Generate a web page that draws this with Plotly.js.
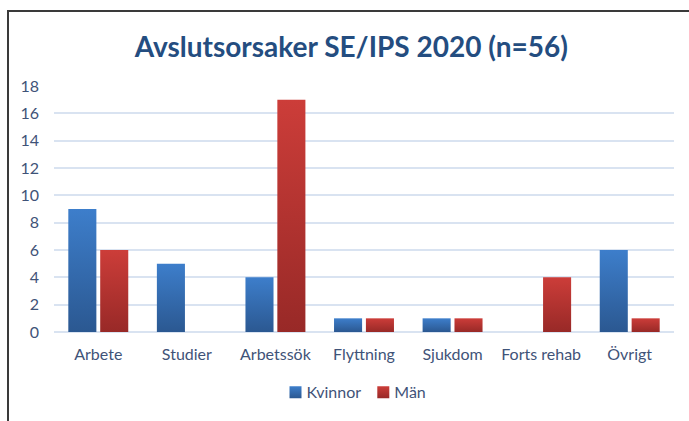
<!DOCTYPE html>
<html><head><meta charset="utf-8">
<script src="https://cdn.plot.ly/plotly-3.0.1.min.js"></script>
<style>
body{margin:0;padding:0;background:#fff;}
#wrap{position:relative;width:689px;height:421px;overflow:hidden;}
#chart{position:absolute;left:0;top:0;width:689px;height:421px;}
#frame{position:absolute;left:7px;top:10px;width:700px;height:430px;border-top:2px solid #3a3a3a;border-left:2px solid #3a3a3a;pointer-events:none;}
</style></head>
<body>
<div id="wrap"><div id="chart"></div><div id="frame"></div></div>
<script>
const categories = ["Arbete","Studier","Arbetssök","Flyttning","Sjukdom","Forts rehab","Övrigt"];
const kvinnor = [9,5,4,1,1,0,6];
const man = [6,0,17,1,1,4,1];
const yTicks = [0,2,4,6,8,10,12,14,16,18];

const font = "Lato, 'Open Sans', 'DejaVu Sans', sans-serif";
const data = [
  {type:"bar", name:"Kvinnor", x:categories, y:kvinnor, marker:{color:"#3567ad"}},
  {type:"bar", name:"Män", x:categories, y:man, marker:{color:"#b5332f"}}
];
const layout = {
  width:689, height:421,
  margin:{l:54, r:15, t:86, b:86},
  paper_bgcolor:"#ffffff", plot_bgcolor:"#ffffff",
  title:{text:"<b>Avslutsorsaker SE/IPS 2020 (n=56)</b>", x:0.51, xanchor:"center", y:0.888, yanchor:"middle",
    font:{family:font, size:28, color:"#244d80"}},
  barmode:"group", bargap:0.28, bargroupgap:0.12,
  showlegend:true,
  legend:{orientation:"h", x:0.5, xanchor:"center", y:-0.245, yanchor:"middle",
    font:{family:font, size:16, color:"#3f5378"}, itemwidth:30, traceorder:"normal"},
  xaxis:{type:"category", showgrid:false, zeroline:false, showline:false, ticks:"",
    tickfont:{family:font, size:16, color:"#3f5378"}, ticklabelstandoff:11},
  yaxis:{range:[0,18], tickvals:yTicks, ticktext:yTicks.map(String), showgrid:true,
    gridcolor:"#d9e3f1", gridwidth:2, zeroline:true, zerolinecolor:"#d9e3f1", zerolinewidth:2,
    showline:false, ticks:"", tickfont:{family:font, size:16, color:"#3f5378"}, ticklabelstandoff:14}
};
Plotly.newPlot("chart", data, layout, {displayModeBar:false, staticPlot:true}).then(function(gd){
  const svg = gd.querySelector("svg.main-svg");
  const ns = "http://www.w3.org/2000/svg";
  let defs = svg.querySelector("defs");
  if(!defs){defs = document.createElementNS(ns,"defs"); svg.insertBefore(defs, svg.firstChild);}
  function grad(id, top, bot){
    const g = document.createElementNS(ns,"linearGradient");
    g.setAttribute("id",id); g.setAttribute("x1","0"); g.setAttribute("y1","0"); g.setAttribute("x2","0"); g.setAttribute("y2","1");
    [[0,top],[1,bot]].forEach(function(s){
      const st = document.createElementNS(ns,"stop");
      st.setAttribute("offset", s[0]); st.setAttribute("stop-color", s[1]);
      g.appendChild(st);
    });
    defs.appendChild(g);
  }
  grad("gBlue","#3d7ecb","#2b5891");
  grad("gRed","#cc3d39","#982927");
  const ids = ["gBlue","gRed"];
  svg.querySelectorAll(".barlayer .trace.bars").forEach(function(t,i){
    t.querySelectorAll("path").forEach(function(p){ p.style.fill = "url(#"+ids[i]+")"; });
  });
  // tighten legend: text closer to swatch, items closer together
  gd.querySelectorAll(".legend .traces").forEach(function(tr,i){
    const txt = tr.querySelector(".legendtext");
    if(txt){ txt.setAttribute("x", parseFloat(txt.getAttribute("x")) - 9); }
    tr.querySelectorAll(".legendpoints path").forEach(function(p){
      p.style.fill = "url(#"+ids[i]+")";
    });
    if(i===1){
      const m = /translate\(([-\d.]+),\s*([-\d.]+)\)/.exec(tr.getAttribute("transform")||"");
      if(m){ tr.setAttribute("transform","translate("+(parseFloat(m[1])-12)+","+m[2]+")"); }
    }
  });
});
</script>
</body></html>
